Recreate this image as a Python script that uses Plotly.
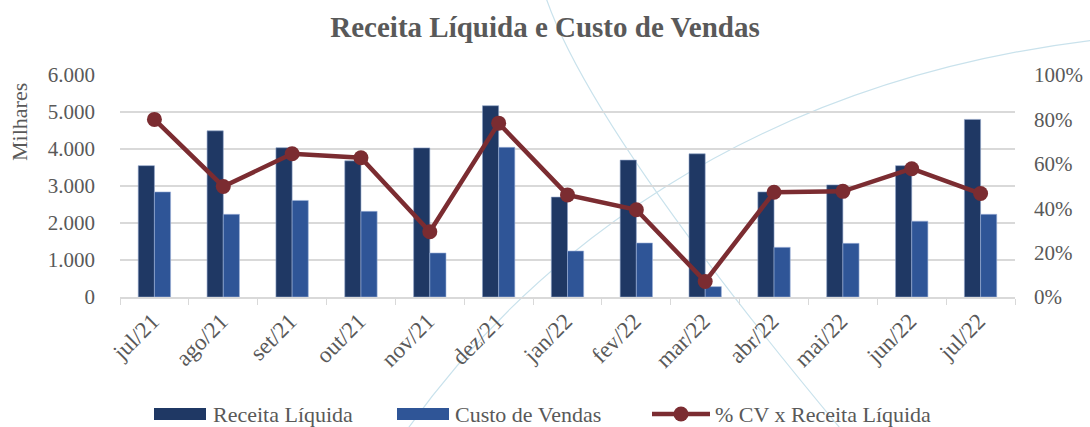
import plotly.graph_objects as go

meses = ["jul/21", "ago/21", "set/21", "out/21", "nov/21", "dez/21", "jan/22",
         "fev/22", "mar/22", "abr/22", "mai/22", "jun/22", "jul/22"]
receita_liquida = [3550, 4490, 4035, 3680, 4030, 5170, 2700, 3700, 3870, 2840, 3030, 3550, 4800]
custo_vendas = [2840, 2235, 2610, 2315, 1190, 4045, 1243, 1460, 280, 1343, 1450, 2050, 2235]
pct_cv_receita = [0.80, 0.498, 0.645, 0.627, 0.294, 0.783, 0.46, 0.393, 0.07, 0.472, 0.476, 0.578, 0.466]

FONT = "Liberation Serif"
GRAY = "#595959"
C_REC = "#1F3864"
C_CUS = "#2F5597"
C_PCT = "#7B2C31"

fig = go.Figure()
fig.add_trace(go.Bar(x=meses, y=receita_liquida, name="Receita Líquida", showlegend=False,
                     marker=dict(color=C_REC, line=dict(color="#8EA2C8", width=0.6))))
fig.add_trace(go.Bar(x=meses, y=custo_vendas, name="Custo de Vendas", showlegend=False,
                     marker=dict(color=C_CUS, line=dict(color="#9FB4DA", width=0.6))))
fig.add_trace(go.Scatter(x=meses, y=pct_cv_receita, name="% CV x Receita Líquida", yaxis="y2",
                         mode="lines+markers", showlegend=False,
                         line=dict(color=C_PCT, width=4.5),
                         marker=dict(color=C_PCT, size=15)))

L, R, T, B = 120, 75, 75, 130
W, H = 1090, 427
pw, ph = W - L - R, H - T - B


def fx(x):
    return (x - L) / pw


def fy(y):
    return (H - B - y) / ph


def px(x, y):
    return f"{fx(x):.4f},{fy(y):.4f}"


shapes = [
    dict(type="path", xref="paper", yref="paper", layer="below",
         path=f"M {px(380, 470)} C {px(520, 250)} {px(760, 80)} {px(1095, 40)}",
         line=dict(color="#C9E2EC", width=1.2)),
    dict(type="path", xref="paper", yref="paper", layer="below",
         path=f"M {px(545, -5)} Q {px(590, 130)} {px(850, 440)}",
         line=dict(color="#C9E2EC", width=1.2)),
]

# custom legend (wide swatches like the reference)
LEG_Y = 414
legend_items = [
    ("bar", C_REC, 154, 206, 211, "Receita Líquida"),
    ("bar", C_CUS, 397, 449, 453, "Custo de Vendas"),
    ("line", C_PCT, 652, 710, 713, "% CV x Receita Líquida"),
]
annotations = []
for kind, color, x0, x1, tx, label in legend_items:
    if kind == "bar":
        shapes.append(dict(type="rect", xref="paper", yref="paper",
                           x0=fx(x0), x1=fx(x1), y0=fy(LEG_Y + 6), y1=fy(LEG_Y - 6),
                           fillcolor=color, line=dict(width=0)))
    else:
        shapes.append(dict(type="line", xref="paper", yref="paper",
                           x0=fx(x0), x1=fx(x1), y0=fy(LEG_Y), y1=fy(LEG_Y),
                           line=dict(color=color, width=4.5)))
        cx = (x0 + x1) / 2
        shapes.append(dict(type="circle", xref="paper", yref="paper",
                           x0=fx(cx - 7.5), x1=fx(cx + 7.5), y0=fy(LEG_Y + 7.5), y1=fy(LEG_Y - 7.5),
                           fillcolor=color, line=dict(width=0)))
    annotations.append(dict(text=label, xref="paper", yref="paper", x=fx(tx), y=fy(LEG_Y),
                            xanchor="left", yanchor="middle", showarrow=False,
                            font=dict(family=FONT, size=22, color=GRAY)))

# y-axis title placed like the reference (upper part of the axis)
annotations.append(dict(text="Milhares", xref="paper", yref="paper", x=fx(20), y=fy(122),
                        xanchor="center", yanchor="middle", textangle=-90, showarrow=False,
                        font=dict(family=FONT, size=22, color=GRAY)))

fig.update_layout(
    width=W, height=H,
    margin=dict(l=L, r=R, t=T, b=B, autoexpand=False),
    paper_bgcolor="white", plot_bgcolor="rgba(0,0,0,0)",
    separators=",.",
    barmode="group", bargap=0.53, bargroupgap=0,
    showlegend=False,
    title=dict(text="<b>Receita Líquida e Custo de Vendas</b>", x=0.5, xanchor="center",
               y=1 - 27 / H, yanchor="middle", font=dict(family=FONT, size=29, color=GRAY)),
    font=dict(family=FONT, size=21, color=GRAY),
    xaxis=dict(type="category", range=[-0.5, len(meses) - 0.5], tickangle=-45,
               tickfont=dict(size=23, color=GRAY),
               ticks="outside", tickson="boundaries", ticklen=6, tickcolor="#D9D9D9",
               showline=True, linecolor="#D9D9D9", linewidth=1.5, showgrid=False,
               automargin=False, ticklabelshift=-2),
    yaxis=dict(range=[0, 6000], dtick=1000, tickformat=",d", showgrid=True,
               gridcolor="#D9D9D9", gridwidth=1.5, zeroline=False, automargin=False,
               tickfont=dict(size=21, color=GRAY), ticklabelstandoff=24),
    yaxis2=dict(range=[0, 1], dtick=0.2, tickformat=".0%", overlaying="y", side="right",
                showgrid=False, zeroline=False, automargin=False,
                tickfont=dict(size=21, color=GRAY), ticklabelstandoff=18),
    shapes=shapes,
    annotations=annotations,
)

fig.write_html("out.html", config=dict(displayModeBar=False),
               post_script="document.body.style.margin='0';document.body.style.padding='0';")
